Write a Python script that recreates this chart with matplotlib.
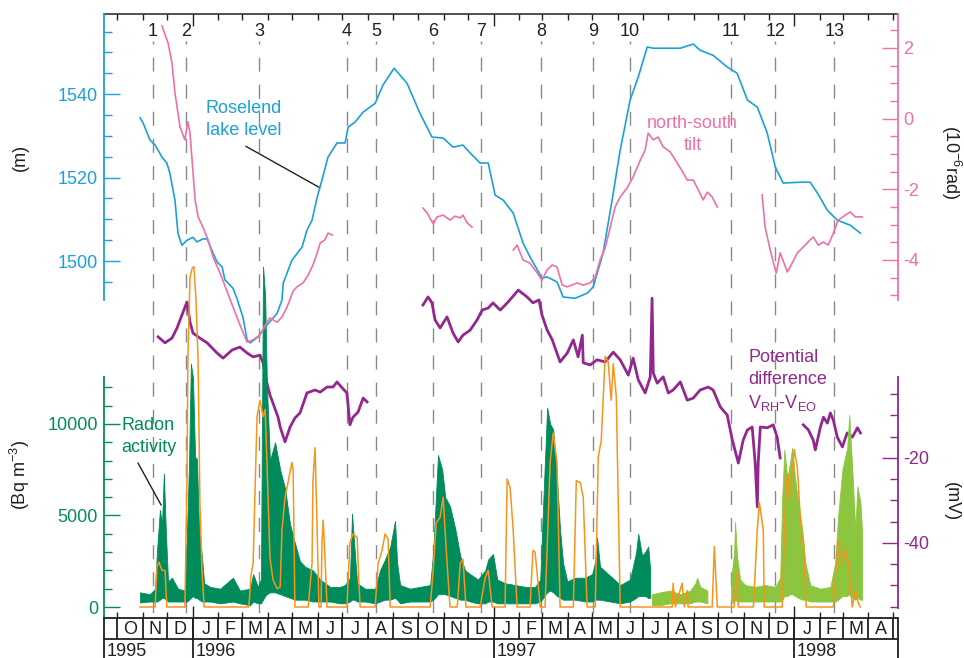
"""
Roselend reservoir: lake level, north-south tilt, potential difference
V_RH-V_EO and radon activity, Oct 1995 - Apr 1998, with numbered events.
Times are decimal years.
"""

import datetime as dt
import matplotlib
matplotlib.use("Agg")
import matplotlib.pyplot as plt

plt.rcParams["font.family"] = ["Liberation Sans", "DejaVu Sans"]
plt.rcParams["axes.unicode_minus"] = False
plt.rcParams["lines.scale_dashes"] = False

CYAN = "#1ba0d8"
PINK = "#f06fa9"
PURPLE = "#93278f"
GREEN = "#008c5a"
LIGHT = "#8cc63f"
ORANGE = "#f7941d"
GREY = "#8a8a8a"
INK = "#231f20"

T0, T1 = 1995.704, 1998.345

# ---- event markers ---------------------------------------------------------
event_no = list(range(1, 14))
event_t = [1995.867, 1995.977, 1996.220, 1996.512, 1996.609, 1996.799,
           1996.958, 1997.158, 1997.331, 1997.452, 1997.790, 1997.937,
           1998.133]

# ---- Roselend lake level (m) -----------------------------------------------
lake_t = [1995.824, 1995.834, 1995.857, 1995.874, 1995.897, 1995.913, 1995.923, 1995.940, 1995.950, 1995.963,
          1995.980, 1996.000, 1996.013, 1996.033, 1996.047, 1996.067, 1996.080, 1996.097, 1996.106, 1996.113,
          1996.133, 1996.146, 1996.166, 1996.180, 1996.190, 1996.216, 1996.246, 1996.280, 1996.296, 1996.300,
          1996.329, 1996.363, 1996.379, 1996.396, 1996.413, 1996.429, 1996.449, 1996.479, 1996.506, 1996.516,
          1996.539, 1996.566, 1996.606, 1996.632, 1996.669, 1996.712, 1996.755, 1996.795, 1996.832, 1996.865,
          1996.898, 1996.922, 1996.955, 1996.982, 1997.005, 1997.032, 1997.065, 1997.098, 1997.121, 1997.161,
          1997.178, 1997.211, 1997.231, 1997.271, 1997.311, 1997.331, 1997.364, 1997.394, 1997.421, 1997.454,
          1997.481, 1997.511, 1997.531, 1997.621, 1997.664, 1997.687, 1997.730, 1997.777, 1997.810, 1997.844,
          1997.877, 1997.910, 1997.937, 1997.963, 1998.020, 1998.053, 1998.077, 1998.110, 1998.143, 1998.186,
          1998.220]
lake_m = [1534.3, 1533.1, 1529.0, 1527.8, 1524.9, 1523.5, 1521.1, 1514.6, 1506.7, 1503.8,
          1505.0, 1505.7, 1504.6, 1505.3, 1505.3, 1501.9, 1499.8, 1498.6, 1495.5, 1495.0,
          1493.5, 1491.1, 1486.6, 1481.1, 1480.4, 1481.8, 1484.7, 1487.5, 1490.7, 1494.7,
          1500.2, 1503.4, 1507.4, 1509.8, 1515.3, 1519.4, 1524.9, 1528.3, 1528.3, 1532.1,
          1533.3, 1535.7, 1537.8, 1542.2, 1546.2, 1542.6, 1535.4, 1529.7, 1529.5, 1527.3,
          1527.8, 1525.9, 1523.5, 1523.5, 1515.8, 1514.6, 1511.5, 1504.3, 1501.0, 1495.9,
          1496.2, 1495.0, 1491.4, 1491.1, 1492.3, 1493.8, 1501.9, 1514.6, 1526.6, 1538.6,
          1544.1, 1551.3, 1551.0, 1551.0, 1552.0, 1550.5, 1549.3, 1546.5, 1545.0, 1538.6,
          1536.9, 1530.7, 1522.5, 1518.7, 1518.9, 1518.9, 1516.3, 1512.2, 1509.8, 1508.6,
          1506.7]

# ---- north-south tilt (1e-6 rad), four recording periods --------------------
tilt_t = [
    [1995.897, 1995.917, 1995.930, 1995.940, 1995.957, 1995.973, 1995.980, 1995.983, 1995.990, 1995.997,
     1996.007, 1996.017, 1996.033, 1996.050, 1996.067, 1996.090, 1996.113, 1996.133, 1996.146, 1996.163,
     1996.180, 1996.200, 1996.223, 1996.246, 1996.256, 1996.280, 1996.296, 1996.313, 1996.333, 1996.346,
     1996.366, 1996.383, 1996.399, 1996.413, 1996.423, 1996.439, 1996.449, 1996.463],
    [1996.765, 1996.779, 1996.799, 1996.812, 1996.832, 1996.855, 1996.872, 1996.889, 1996.898, 1996.912,
     1996.928],
    [1997.065, 1997.078, 1997.098, 1997.121, 1997.145, 1997.161, 1997.178, 1997.195, 1997.211, 1997.228,
     1997.245, 1997.278, 1997.298, 1997.321, 1997.338, 1997.354, 1997.371, 1997.388, 1997.404, 1997.421,
     1997.444, 1997.464, 1997.488, 1997.504, 1997.514, 1997.531, 1997.547, 1997.564, 1997.587, 1997.611,
     1997.631, 1997.644, 1997.664, 1997.681, 1997.697, 1997.711, 1997.727, 1997.744],
    [1997.893, 1997.903, 1997.920, 1997.940, 1997.953, 1997.977, 1997.993, 1998.010, 1998.030, 1998.053,
     1998.063, 1998.080, 1998.097, 1998.113, 1998.130, 1998.146, 1998.170, 1998.186, 1998.203, 1998.226],
]
tilt_v = [
    [2.62, 2.14, 1.58, 0.73, -0.24, -0.60, -0.24, -0.09, -0.41, -1.17,
     -2.30, -2.78, -3.07, -3.43, -3.92, -4.37, -4.88, -5.33, -5.61, -5.98,
     -6.32, -6.26, -6.12, -5.76, -5.64, -5.76, -5.61, -5.33, -4.88, -4.76,
     -4.65, -4.43, -4.14, -3.80, -3.52, -3.43, -3.24, -3.29],
    [-2.53, -2.67, -2.98, -2.78, -2.73, -2.87, -2.76, -2.81, -2.73, -2.95,
     -3.07],
    [-3.72, -3.58, -4.00, -4.09, -4.37, -4.57, -4.28, -4.14, -4.20, -4.71,
     -4.76, -4.65, -4.71, -4.65, -4.48, -4.00, -3.66, -3.07, -2.50, -2.22,
     -1.96, -1.65, -1.17, -0.89, -0.41, -0.60, -0.52, -0.80, -0.94, -1.26,
     -1.54, -1.74, -1.74, -2.02, -2.30, -2.08, -2.22, -2.50],
    [-2.16, -3.07, -3.72, -4.37, -3.80, -4.34, -4.09, -3.80, -3.63, -3.43,
     -3.35, -3.58, -3.49, -3.58, -3.24, -2.87, -2.73, -2.64, -2.78, -2.78],
]

# ---- potential difference V_RH - V_EO (mV), three recording periods --------
pd_t = [
    [1995.884, 1995.907, 1995.930, 1995.947, 1995.963, 1995.980, 1995.990, 1996.000, 1996.023, 1996.047,
     1996.080, 1996.100, 1996.130, 1996.156, 1996.180, 1996.200, 1996.223, 1996.233, 1996.246, 1996.256,
     1996.266, 1996.283, 1996.290, 1996.306, 1996.323, 1996.339, 1996.356, 1996.379, 1996.406, 1996.423,
     1996.446, 1996.466, 1996.479, 1996.496, 1996.512, 1996.522, 1996.532, 1996.549, 1996.566, 1996.579],
    [1996.765, 1996.782, 1996.795, 1996.805, 1996.822, 1996.845, 1996.865, 1996.882, 1996.898, 1996.922,
     1996.945, 1996.962, 1996.982, 1996.998, 1997.022, 1997.048, 1997.082, 1997.111, 1997.131, 1997.151,
     1997.161, 1997.178, 1997.195, 1997.221, 1997.245, 1997.265, 1997.281, 1997.295, 1997.298, 1997.321,
     1997.344, 1997.371, 1997.398, 1997.421, 1997.448, 1997.464, 1997.481, 1997.504, 1997.521, 1997.527,
     1997.531, 1997.544, 1997.564, 1997.581, 1997.597, 1997.621, 1997.644, 1997.664, 1997.687, 1997.714,
     1997.730, 1997.754, 1997.777, 1997.794, 1997.814, 1997.830, 1997.844, 1997.860, 1997.870, 1997.877,
     1997.880, 1997.887, 1997.910, 1997.930, 1997.943, 1997.953],
    [1998.030, 1998.047, 1998.063, 1998.070, 1998.087, 1998.097, 1998.110, 1998.120, 1998.130, 1998.143,
     1998.160, 1998.176, 1998.193, 1998.210, 1998.220],
]
pd_v = [
    [8.5, 7.1, 8.2, 10.6, 13.6, 16.7, 12.0, 9.4, 8.2, 7.1,
     4.7, 3.5, 5.4, 6.1, 4.7, 3.8, 4.2, 2.4, -2.4, -5.2,
     -7.1, -10.4, -12.7, -16.2, -12.7, -10.6, -9.4, -4.7, -4.0, -4.5,
     -3.3, -3.3, -2.1, -3.5, -4.7, -12.2, -10.4, -9.2, -5.9, -6.8],
    [16.0, 17.9, 16.5, 12.5, 10.6, 13.2, 9.4, 7.3, 8.9, 10.1,
     12.5, 14.8, 15.3, 16.5, 14.8, 16.7, 19.5, 17.9, 16.5, 17.2,
     13.6, 10.1, 7.8, 2.6, 4.7, 7.8, 3.8, 8.9, 2.4, 1.9,
     3.1, 2.6, 4.9, 3.1, -0.5, 3.5, -1.6, -4.7, -0.9, 17.6,
     0.0, -2.4, -0.9, -4.7, -4.0, -2.1, -6.4, -5.9, -4.0, -3.3,
     -4.0, -8.0, -9.9, -15.8, -21.2, -15.8, -13.4, -12.7, -21.2, -31.5,
     -21.2, -12.7, -12.9, -12.2, -15.1, -20.0],
    [-12.2, -13.4, -15.8, -18.1, -12.7, -10.4, -11.8, -9.4, -11.1, -15.1,
     -17.4, -14.1, -15.1, -12.9, -14.1],
]

# ---- radon activity (Bq m-3), first detector: low / high envelope ----------
rn_t = [1995.824, 1995.857, 1995.874, 1995.880, 1995.890, 1995.897, 1995.903, 1995.910, 1995.917, 1995.930,
        1995.950, 1995.973, 1995.980, 1995.987, 1995.993, 1996.000, 1996.007, 1996.013, 1996.020, 1996.030,
        1996.037, 1996.057, 1996.090, 1996.133, 1996.156, 1996.190, 1996.200, 1996.216, 1996.226, 1996.233,
        1996.240, 1996.246, 1996.256, 1996.273, 1996.290, 1996.306, 1996.323, 1996.339, 1996.356, 1996.373,
        1996.399, 1996.423, 1996.456, 1996.489, 1996.506, 1996.522, 1996.529, 1996.536, 1996.546, 1996.572,
        1996.606, 1996.622, 1996.639, 1996.656, 1996.672, 1996.679, 1996.689, 1996.722, 1996.755, 1996.789,
        1996.799, 1996.805, 1996.815, 1996.829, 1996.839, 1996.855, 1996.872, 1996.889, 1996.905, 1996.922,
        1996.948, 1996.972, 1996.982, 1996.998, 1997.012, 1997.038, 1997.072, 1997.105, 1997.138, 1997.155,
        1997.165, 1997.178, 1997.188, 1997.198, 1997.211, 1997.221, 1997.231, 1997.245, 1997.271, 1997.304,
        1997.328, 1997.338, 1997.344, 1997.354, 1997.388, 1997.421, 1997.454, 1997.474, 1997.481, 1997.494,
        1997.504, 1997.514, 1997.521]
rn_lo = [250, 300, 300, 300, 400, 500, 500, 400, 300, 300,
         300, 300, 300, 400, 500, 600, 500, 500, 400, 300,
         300, 300, 200, 300, 200, 100, 300, 200, 200, 400,
         600, 700, 800, 800, 700, 600, 500, 400, 400, 400,
         300, 300, 300, 200, 200, 300, 400, 400, 300, 300,
         200, 300, 400, 400, 500, 400, 200, 300, 300, 300,
         400, 500, 700, 700, 700, 600, 500, 400, 400, 300,
         200, 200, 300, 300, 200, 200, 200, 200, 200, 300,
         500, 800, 900, 800, 600, 500, 400, 400, 400, 300,
         300, 400, 400, 400, 300, 200, 300, 500, 600, 600,
         600, 500, 500]
rn_hi = [800, 700, 1000, 3000, 5300, 4500, 7300, 4000, 1400, 1600,
         1000, 900, 4000, 8000, 13300, 12500, 8200, 8100, 4300, 2700,
         1300, 1100, 1000, 1600, 900, 1000, 1800, 1100, 1500, 18600,
         17000, 12000, 8000, 9000, 7500, 6500, 4500, 3500, 2500, 2200,
         2000, 1500, 1100, 1100, 1200, 1600, 5100, 3500, 1300, 1000,
         1000, 2000, 2600, 3300, 4700, 2400, 1200, 1000, 1100, 1200,
         3000, 5000, 8300, 7500, 6000, 5500, 4300, 2800, 2000, 1800,
         1500, 2000, 2600, 2900, 1500, 1300, 1200, 1100, 1100, 1500,
         5700, 10900, 10000, 9700, 6900, 4200, 2400, 1400, 1600, 1600,
         1800, 2500, 3800, 2200, 1700, 1200, 1500, 3000, 4000, 2800,
         3000, 3300, 2000]

# ---- radon activity, second detector (two periods) -------------------------
rn2_t = [
    [1997.527, 1997.554, 1997.587, 1997.621, 1997.654, 1997.671, 1997.677, 1997.687, 1997.711],
    [1997.790, 1997.800, 1997.803, 1997.810, 1997.820, 1997.837, 1997.870, 1997.903, 1997.937, 1997.953,
     1997.960, 1997.967, 1997.977, 1997.987, 1997.993, 1998.003, 1998.013, 1998.027, 1998.037, 1998.053,
     1998.087, 1998.120, 1998.136, 1998.146, 1998.160, 1998.176, 1998.183, 1998.193, 1998.203, 1998.210,
     1998.220, 1998.226],
]
rn2_lo = [
    [100, 100, 200, 200, 200, 300, 300, 300, 200],
    [200, 300, 400, 300, 300, 300, 300, 300, 300, 300,
     400, 600, 600, 700, 700, 600, 500, 400, 400, 300,
     300, 300, 300, 400, 600, 600, 700, 500, 400, 500,
     400, 400],
]
rn2_hi = [
    [700, 800, 900, 700, 900, 1300, 1600, 1100, 900],
    [1500, 3000, 4650, 2700, 1500, 1200, 1100, 1200, 1100, 1600,
     6000, 8600, 7000, 8000, 8700, 7000, 5700, 4200, 2400, 1200,
     1000, 1100, 2400, 5000, 7500, 8700, 10500, 7500, 4200, 6600,
     5700, 4000],
]

# ---- orange record (drawn on the radon scale) ------------------------------
or_t = [1995.824, 1995.874, 1995.880, 1995.887, 1995.897, 1995.907, 1995.913, 1995.973, 1995.980, 1995.983,
        1995.990, 1995.997, 1996.003, 1996.010, 1996.017, 1996.023, 1996.030, 1996.037, 1996.186, 1996.193,
        1996.200, 1996.206, 1996.213, 1996.223, 1996.233, 1996.240, 1996.246, 1996.256, 1996.266, 1996.280,
        1996.290, 1996.296, 1996.306, 1996.316, 1996.329, 1996.333, 1996.339, 1996.383, 1996.396, 1996.399,
        1996.406, 1996.413, 1996.419, 1996.426, 1996.429, 1996.433, 1996.439, 1996.446, 1996.512, 1996.522,
        1996.532, 1996.546, 1996.552, 1996.556, 1996.606, 1996.616, 1996.629, 1996.639, 1996.649, 1996.656,
        1996.789, 1996.799, 1996.809, 1996.822, 1996.832, 1996.845, 1996.855, 1996.879, 1996.889, 1996.898,
        1996.908, 1996.955, 1996.972, 1996.982, 1996.995, 1997.038, 1997.045, 1997.055, 1997.065, 1997.078,
        1997.121, 1997.131, 1997.138, 1997.155, 1997.171, 1997.188, 1997.198, 1997.211, 1997.221, 1997.265,
        1997.275, 1997.288, 1997.298, 1997.311, 1997.338, 1997.348, 1997.358, 1997.371, 1997.381, 1997.391,
        1997.398, 1997.408, 1997.421, 1997.594, 1997.597, 1997.604, 1997.627, 1997.634, 1997.644, 1997.647,
        1997.727, 1997.734, 1997.744, 1997.800, 1997.807, 1997.814, 1997.864, 1997.877, 1997.884, 1997.897,
        1997.900, 1997.960, 1997.970, 1997.977, 1997.987, 1998.000, 1998.010, 1998.020, 1998.030, 1998.040,
        1998.130, 1998.146, 1998.160, 1998.170, 1998.180, 1998.193, 1998.203, 1998.213, 1998.220]
or_v = [0, 0, 2200, 2450, 2000, 2000, 0, 0, 6900, 13500,
        18000, 18500, 18600, 16800, 13500, 5800, 2000, 0, 0, 1750,
        2400, 6000, 10400, 11300, 10400, 10800, 7900, 2700, 1500, 1000,
        1100, 4200, 6000, 6800, 7900, 7500, 0, 0, 2400, 6900,
        8700, 4200, 0, 0, 3500, 4750, 2700, 0, 0, 3500,
        4000, 3800, 1300, 0, 0, 2400, 3100, 4000, 3700, 0,
        0, 2000, 4600, 4900, 6000, 2400, 0, 0, 2400, 2600,
        0, 0, 1600, 2000, 0, 0, 7000, 6500, 4200, 0,
        0, 3100, 3000, 0, 0, 7900, 9500, 7900, 0, 0,
        6900, 6800, 6000, 0, 0, 8200, 9100, 13700, 13400, 11300,
        13300, 11500, 0, 0, 1300, 0, 1300, 0, 900, 0,
        0, 3300, 0, 0, 1850, 0, 0, 4200, 5700, 4200,
        0, 0, 5500, 7300, 6000, 8600, 7650, 4900, 3300, 0,
        0, 3700, 2400, 3100, 2400, 0, 900, 200, 0]


def decimal_year(year, month, day=1):
    start = dt.date(year, 1, 1)
    days = (dt.date(year + 1, 1, 1) - start).days
    return year + (dt.date(year, month, day) - start).days / days


months = [(y, m) for y in range(1995, 1999) for m in range(1, 13)
          if (1995, 10) <= (y, m) <= (1998, 5)]
month_edges = [decimal_year(y, m) for y, m in months]
year_edges = [decimal_year(y, 1) for y in (1996, 1997, 1998)]

fig = plt.figure(figsize=(9.64, 6.58), dpi=100)
L, W = 104 / 964, 794 / 964
B, H = 40 / 658, 604 / 658

# ---- base frame: top spine, month ticks, event lines -----------------------
ax = fig.add_axes([L, B, W, H])
ax.set_xlim(T0, T1)
ax.set_ylim(0, 1)
for side in ("left", "right", "bottom"):
    ax.spines[side].set_visible(False)
ax.spines["top"].set_linewidth(1.1)
ax.spines["top"].set_color(INK)
ax.set_yticks([])
ax.set_xticks(year_edges)
ax.set_xticks(month_edges, minor=True)
ax.tick_params(axis="x", which="both", top=True, bottom=True, direction="in",
               labelbottom=False, width=1.0, color=INK)
ax.tick_params(axis="x", which="major", length=8.5)
ax.tick_params(axis="x", which="minor", length=4.3)

for n, t in zip(event_no, event_t):
    ax.plot([t, t], [0.9553, 0.0], color=GREY, lw=1.0,
            linestyle=(7.9, (10.1, 9.4)))
    ax.text(t, 0.971, str(n), ha="center", va="center", fontsize=13,
            color=INK)


def overlay(side, color, lim, spine_span, majors, minors, pad):
    a = fig.add_axes([L, B, W, H], sharex=ax)
    a.patch.set_visible(False)
    for s in a.spines.values():
        s.set_visible(False)
    sp = a.spines[side]
    sp.set_visible(True)
    sp.set_color(color)
    sp.set_linewidth(1.3)
    sp.set_bounds(*spine_span)
    a.set_ylim(*lim)
    if side == "right":
        a.yaxis.tick_right()
    else:
        a.yaxis.tick_left()
    a.set_yticks(majors)
    a.set_yticks(minors, minor=True)
    a.tick_params(axis="y", which="both", direction="in", colors=color,
                  width=1.0, labelsize=13, pad=pad)
    a.tick_params(axis="y", which="major", length=11.5)
    a.tick_params(axis="y", which="minor", length=5.8)
    a.tick_params(axis="x", which="both", bottom=False, top=False,
                  labelbottom=False)
    return a


ax_pd = overlay("right", PURPLE, (-57.65, 84.47), (-55.3, -0.9),
                [-40, -20], list(range(-55, 0, 5)), 3.6)
ax_rn = overlay("left", GREEN, (-601, 32402), (-601, 12568),
                [0, 5000, 10000], list(range(0, 12001, 1000)), 4.3)
ax_lake = overlay("left", CYAN, (1414.5, 1559.2), (1490.7, 1559.2),
                  [1500, 1520, 1540], list(range(1495, 1556, 5)), 4.3)
ax_tilt = overlay("right", PINK, (-14.13, 2.96), (-5.13, 2.96),
                  [-4, -2, 0, 2], [x / 2 for x in range(-10, 6)], 3.6)

# ---- series ---------------------------------------------------------------
for t, v in zip(pd_t, pd_v):
    ax_pd.plot(t, v, color=PURPLE, lw=2.0)

ax_rn.fill_between(rn_t, rn_lo, rn_hi, color=GREEN, lw=0.6)
for t, lo, hi in zip(rn2_t, rn2_lo, rn2_hi):
    ax_rn.fill_between(t, lo, hi, color=LIGHT, lw=0.6)
ax_rn.plot(or_t, or_v, color=ORANGE, lw=1.1)

ax_lake.plot(lake_t, lake_m, color=CYAN, lw=1.2)
for t, v in zip(tilt_t, tilt_v):
    ax_tilt.plot(t, v, color=PINK, lw=1.2)

# ---- in-plot labels --------------------------------------------------------
ax_lake.text(1996.043, 1535.45, "Roselend", color=CYAN, fontsize=13,
             va="baseline")
ax_lake.text(1996.043, 1530.2, "lake level", color=CYAN, fontsize=13,
             va="baseline")
ax_lake.annotate("", xy=(1996.419, 1517.7), xytext=(1996.176, 1527.5),
                 arrowprops=dict(arrowstyle="-", color=INK, lw=1.0,
                                 shrinkA=0, shrinkB=0))

ax_tilt.text(1997.661, -0.26, "north-south", color=PINK, fontsize=13,
             ha="center", va="baseline")
ax_tilt.text(1997.664, -0.89, "tilt", color=PINK, fontsize=13,
             ha="center", va="baseline")

ax_rn.text(1995.763, 9670, "Radon", color=GREEN, fontsize=13,
           va="baseline")
ax_rn.text(1995.760, 8470, "activity", color=GREEN, fontsize=13,
           va="baseline")
ax_rn.annotate("", xy=(1995.894, 5570), xytext=(1995.817, 7870),
               arrowprops=dict(arrowstyle="-", color=INK, lw=1.0,
                               shrinkA=0, shrinkB=0))

ax_pd.text(1997.847, 2.6, "Potential", color=PURPLE, fontsize=13,
           va="baseline")
ax_pd.text(1997.847, -2.6, "difference", color=PURPLE, fontsize=13,
           va="baseline")
ax_pd.text(1997.847, -8.2, r"V$_\mathregular{RH}$-V$_\mathregular{EO}$",
           color=PURPLE, fontsize=13, va="baseline")

# ---- axis titles -----------------------------------------------------------
fig.text(20 / 964, 1 - 157 / 658, "(m)", rotation=90, fontsize=13,
         color=INK, ha="center", va="center")
fig.text(20 / 964, 1 - 475 / 658, r"(Bq m$^{\mathregular{-3}}$)",
         rotation=90, fontsize=13, color=INK, ha="center", va="center")
fig.text(951 / 964, 1 - 162 / 658, r"(10$^{\mathregular{-6}}$rad)",
         rotation=270, fontsize=13, color=INK, ha="center", va="center")
fig.text(951 / 964, 1 - 502 / 658, "(mV)", rotation=270, fontsize=13,
         color=INK, ha="center", va="center")

# ---- month / year strip ----------------------------------------------------
sx = fig.add_axes([L, -2 / 658, W, 42 / 658], sharex=ax)
sx.set_ylim(0, 1)
sx.axis("off")
sx.axhline(1.0, color=INK, lw=1.3, clip_on=False)
sx.axhline(0.5, color=INK, lw=1.3, clip_on=False)
sx.vlines(month_edges, 0.5, 1.0, color=INK, lw=1.3)
sx.vlines([T0] + year_edges + [T1], 0.0, 1.0, color=INK, lw=1.3,
          clip_on=False)

letters = "JFMAMJJASOND"
for (y, m), start, end in zip(months[:-1], month_edges[:-1], month_edges[1:]):
    sx.text((start + end) / 2, 0.72, letters[m - 1], ha="center",
            va="center", fontsize=13, color=INK)
for label, x in zip(["1995", "1996", "1997", "1998"], [T0] + year_edges):
    sx.annotate(label, xy=(x, 0.40), xytext=(2.0, 0),
                textcoords="offset points", ha="left", va="top",
                fontsize=13, color=INK, annotation_clip=False)

fig.savefig("out.png", dpi=100)
